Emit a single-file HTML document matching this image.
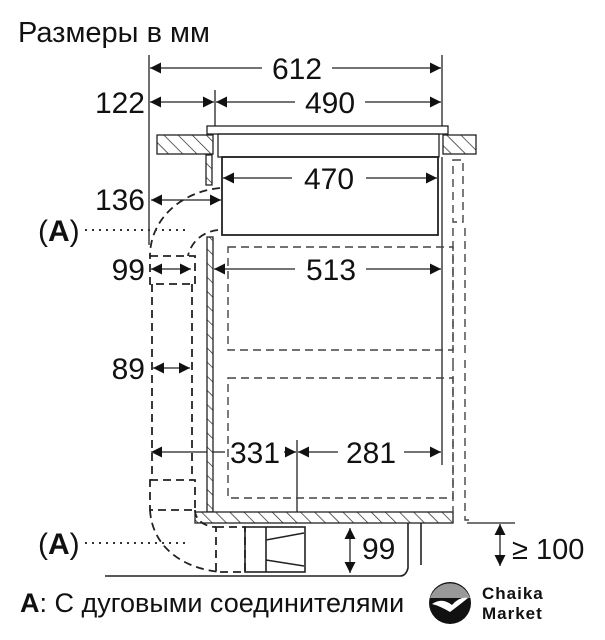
<!DOCTYPE html>
<html><head><meta charset="utf-8"><style>
html,body{margin:0;padding:0;background:#fff;}
svg{display:block;}
text{font-family:"Liberation Sans",sans-serif;fill:#111;}
</style></head><body>
<svg width="605" height="640" viewBox="0 0 605 640" xmlns="http://www.w3.org/2000/svg">
<defs>
<pattern id="h" width="10" height="10" patternUnits="userSpaceOnUse" patternTransform="rotate(-45)">
<rect width="10" height="10" fill="#fff"/><line x1="0" y1="0" x2="0" y2="10" stroke="#222" stroke-width="1.4"/>
</pattern>
<marker id="a" viewBox="0 0 10 10" refX="10" refY="5" markerWidth="15" markerHeight="11" markerUnits="userSpaceOnUse" orient="auto-start-reverse">
<path d="M0,0 L10,5 L0,10 z" fill="#111"/></marker>
</defs>
<text x="18" y="42" font-size="29">Размеры в мм</text>
<g stroke="#222" stroke-width="1.3" fill="none">
<line x1="149" y1="55" x2="149" y2="245"/>
<line x1="442" y1="55" x2="442" y2="126"/>
<line x1="215" y1="90" x2="215" y2="126"/>
<line x1="442" y1="157" x2="442" y2="465"/>
<line x1="297" y1="440" x2="297" y2="512"/>
<line x1="150" y1="68" x2="262" y2="68" marker-start="url(#a)"/>
<line x1="332" y1="68" x2="441" y2="68" marker-end="url(#a)"/>
<line x1="150" y1="102" x2="214" y2="102" marker-start="url(#a)" marker-end="url(#a)"/>
<line x1="216" y1="102" x2="295" y2="102" marker-start="url(#a)"/>
<line x1="365" y1="102" x2="441" y2="102" marker-end="url(#a)"/>
<line x1="223" y1="178" x2="292" y2="178" marker-start="url(#a)"/>
<line x1="366" y1="178" x2="437" y2="178" marker-end="url(#a)"/>
<line x1="151" y1="200" x2="221" y2="200" marker-start="url(#a)" marker-end="url(#a)"/>
<line x1="151" y1="269" x2="191" y2="269" marker-start="url(#a)" marker-end="url(#a)"/>
<line x1="214" y1="269" x2="295" y2="269" marker-start="url(#a)"/>
<line x1="366" y1="269" x2="441" y2="269" marker-end="url(#a)"/>
<line x1="153" y1="368" x2="190" y2="368" marker-start="url(#a)" marker-end="url(#a)"/>
<line x1="151" y1="452" x2="225" y2="452" marker-start="url(#a)"/>
<line x1="284" y1="452" x2="296" y2="452" marker-end="url(#a)"/>
<line x1="298" y1="452" x2="338" y2="452" marker-start="url(#a)"/>
<line x1="404" y1="452" x2="441" y2="452" marker-end="url(#a)"/>
<line x1="350" y1="528" x2="350" y2="573" marker-start="url(#a)" marker-end="url(#a)"/>
<line x1="467" y1="523" x2="515" y2="523"/>
<line x1="500" y1="524" x2="500" y2="566" marker-start="url(#a)" marker-end="url(#a)"/>
<rect x="207" y="126" width="241" height="8"/>
<rect x="218" y="134" width="221" height="23"/>
<rect x="222" y="157" width="216" height="78" stroke-width="1.8"/>
</g>
<g stroke="#222" stroke-width="1.3">
<rect x="157" y="135" width="56" height="19" fill="url(#h)"/>
<rect x="443" y="135" width="33" height="19" fill="url(#h)"/>
<rect x="206" y="155" width="6" height="30" fill="url(#h)"/>
<rect x="207" y="237" width="6" height="275" fill="url(#h)"/>
<rect x="195" y="512" width="258" height="11" fill="url(#h)"/>
</g>
<g stroke="#222" stroke-width="1.8" fill="none" stroke-dasharray="8,5">
<path d="M220,188 C180,192 150,220 150,256"/>
<path d="M218,230 C200,232 190,245 188,256"/>
<rect x="150" y="256" width="45" height="28"/>
<line x1="152" y1="284" x2="152" y2="480"/>
<line x1="192" y1="284" x2="192" y2="480"/>
<rect x="150" y="480" width="45" height="30"/>
<path d="M150,510 C152,545 180,568 220,572"/>
<path d="M195,510 C195,520 205,527 216,527"/>
<rect x="216" y="527" width="29" height="45"/>
</g>
<g stroke="#444" stroke-width="1.4" fill="none" stroke-dasharray="8,5">
<rect x="228" y="247" width="225" height="103"/>
<rect x="228" y="378" width="225" height="120"/>
<path d="M453,160 h10 v62 h-10 z"/>
<path d="M453,228 v135 M465,228 v130"/>
<path d="M453,363 v160 M465,360 v160 h6"/>
</g>
<g stroke="#222" stroke-width="1.6" fill="none">
<rect x="245" y="527" width="60" height="45"/>
<path d="M266,527 v45 M266,540 L304,533 M266,560 L304,566"/>
<path d="M105,576 H400 Q406,576 408,568 V523 M421,523 V565"/>
</g>
<g stroke="#333" stroke-width="2" stroke-dasharray="2,5">
<line x1="85" y1="230" x2="185" y2="230"/>
<line x1="85" y1="543" x2="185" y2="543"/>
</g>
<g font-size="30">
<text x="297" y="79" text-anchor="middle">612</text>
<text x="145" y="113" text-anchor="end">122</text>
<text x="330" y="113" text-anchor="middle">490</text>
<text x="329" y="189" text-anchor="middle">470</text>
<text x="145" y="210" text-anchor="end">136</text>
<text x="38" y="241">(<tspan font-weight="bold">A</tspan>)</text>
<text x="145" y="280" text-anchor="end">99</text>
<text x="331" y="280" text-anchor="middle">513</text>
<text x="145" y="379" text-anchor="end">89</text>
<text x="255" y="463" text-anchor="middle">331</text>
<text x="371" y="463" text-anchor="middle">281</text>
<text x="38" y="554">(<tspan font-weight="bold">A</tspan>)</text>
<text x="362" y="559">99</text>
<text x="512" y="559" font-size="29">≥ 100</text>
</g>
<text x="20" y="612" font-size="27"><tspan font-weight="bold">A</tspan>: С дуговыми соединителями</text>
<rect x="408" y="585" width="197" height="55" fill="#fff"/>
<circle cx="450" cy="603" r="21" fill="#111"/>
<path d="M430,598 A21,21 0 0 1 470,598 Z" fill="#999"/>
<path d="M432,604 Q442,597 452,605 Q460,596 468,598 Q458,606 450,612 Q440,606 432,604Z" fill="#fff"/>
<text x="482" y="599" font-size="17" font-weight="bold" letter-spacing="1">Chaika</text>
<text x="482" y="619" font-size="17" font-weight="bold" letter-spacing="1">Market</text>
</svg>
</body></html>
